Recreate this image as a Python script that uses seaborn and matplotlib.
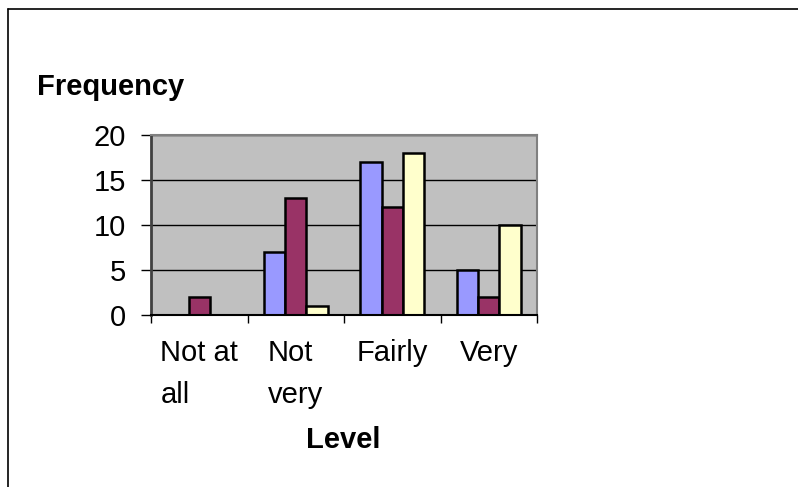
import pandas as pd
import matplotlib
matplotlib.use("Agg")
import matplotlib.pyplot as plt
import seaborn as sns
from matplotlib.lines import Line2D

# data
levels = ["Not at\nall", "Not\nvery", "Fairly", "Very"]
series_names = ["Series1", "Series2", "Series3"]
series1 = [0, 7, 17, 5]
series2 = [2, 13, 12, 2]
series3 = [0, 1, 18, 10]
colors = ["#9999FF", "#993366", "#FFFFCC"]

df = pd.DataFrame({
    "Level": levels * 3,
    "Series": [s for s in series_names for _ in levels],
    "Frequency": series1 + series2 + series3,
})

sns.set_style("white")
plt.rcParams["font.family"] = ["Liberation Sans", "DejaVu Sans"]
plt.rcParams["text.color"] = "black"
plt.rcParams["xtick.color"] = "black"
plt.rcParams["ytick.color"] = "black"

fig = plt.figure(figsize=(7.98, 4.87), dpi=100)
ax = fig.add_axes([151 / 798, 1 - 315 / 487, 386 / 798, 180 / 487])

sns.barplot(data=df, x="Level", y="Frequency", hue="Series", order=levels,
            hue_order=series_names, palette=colors, width=0.66, gap=0,
            edgecolor="black", linewidth=1.8, saturation=1, legend=False, ax=ax)

# hide zero-height bars (Excel draws nothing there)
for p in ax.patches:
    if p.get_height() == 0:
        p.set_linewidth(0)

ax.set_facecolor("#C0C0C0")
ax.set_xlim(-0.5, 3.5)
ax.set_ylim(0, 20)
ax.set_yticks([0, 5, 10, 15, 20])
ax.yaxis.grid(True, color="black", linewidth=1)
ax.set_axisbelow(True)

for side in ["top", "right"]:
    ax.spines[side].set_color("#808080")
    ax.spines[side].set_linewidth(1.5)
ax.spines["left"].set_color("#404040")
ax.spines["left"].set_linewidth(2)
ax.spines["bottom"].set_color("black")
ax.spines["bottom"].set_linewidth(1.5)

ax.tick_params(axis="y", left=True, length=7.2, width=1, color="black",
               pad=11, labelsize=21, labelcolor="black")
ax.set_xticks(range(len(levels)))
ax.set_xticklabels(levels, fontsize=21, color="black", multialignment="left",
                   linespacing=1.65)
ax.set_xticks([-0.5, 0.5, 1.5, 2.5, 3.5], minor=True)
ax.tick_params(axis="x", which="major", length=0, pad=17)
ax.tick_params(axis="x", which="minor", bottom=True, length=6, width=1, color="black")
ax.set_xlabel("")
ax.set_ylabel("")

fig.text(37 / 798, 1 - 95 / 487, "Frequency", fontsize=21, fontweight="bold",
         ha="left", va="baseline", color="black")
fig.text(343 / 798, 1 - 448 / 487, "Level", fontsize=21, fontweight="bold",
         ha="center", va="baseline", color="black")

# chart frame (only top and left edges are in view)
fig.add_artist(Line2D([8 / 798, 1], [1 - 9 / 487, 1 - 9 / 487], color="black", linewidth=1.2))
fig.add_artist(Line2D([8 / 798, 8 / 798], [0, 1 - 9 / 487], color="black", linewidth=1.2))

fig.savefig("out.png", dpi=100, facecolor="white")
